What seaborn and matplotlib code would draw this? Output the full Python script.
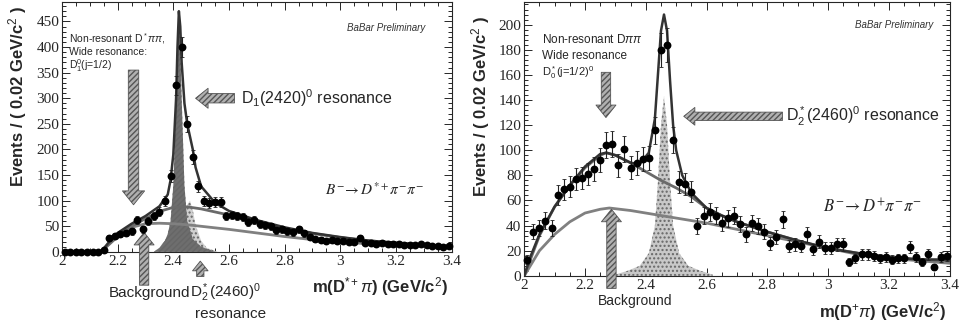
import numpy as np
import pandas as pd
import seaborn as sns
import matplotlib.pyplot as plt
from matplotlib.ticker import MultipleLocator

# ---- data: left panel  B- -> D*+ pi- pi-
bins_l = np.round(np.arange(2.01, 3.40, 0.02), 2)
counts_l = [0, 0, 0, 0, 0, 0, 0, 3, 27, 32, 34, 37, 40, 62, 44, 60, 70, 78, 100, 148,
            325, 400, 250, 185, 128, 100, 96, 97, 98, 70, 72, 70, 68, 58, 62, 55, 52, 50, 42, 44,
            40, 38, 44, 36, 30, 25, 24, 22, 23, 21, 22, 20, 20, 27, 18, 17, 16, 17, 15, 16,
            15, 14, 14, 13, 16, 13, 12, 11, 10, 12]

fit_x_l = [2.0, 2.14, 2.17, 2.2, 2.25, 2.3, 2.35, 2.38, 2.39, 2.40, 2.41, 2.415, 2.42, 2.425,
           2.43, 2.44, 2.45, 2.46, 2.47, 2.48, 2.5, 2.55, 2.6, 2.7, 2.8, 2.9, 3.0, 3.1, 3.2, 3.3, 3.4]
fit_tot_l = [0, 0, 20, 37, 55, 70, 89, 112, 140, 190, 300, 400, 470, 440, 370, 290, 250, 225, 200,
             165, 128, 96, 80, 62, 48, 37, 29, 22, 18, 14, 11]
mid_x_l = [2.0, 2.14, 2.2, 2.25, 2.3, 2.35, 2.4, 2.45, 2.5, 2.6, 2.7, 2.8, 2.9, 3.0, 3.1, 3.2, 3.3, 3.4]
mid_l = [0, 0, 30, 50, 65, 79, 87, 88, 84, 72, 58, 46, 36, 28, 22, 17, 13, 10]
bkg_l = [0, 0, 35, 48, 55, 56, 55, 53, 50, 44, 37, 30, 24, 19, 16, 13, 11, 9]

d1_x = [2.33, 2.35, 2.37, 2.38, 2.39, 2.40, 2.41, 2.415, 2.42, 2.425, 2.43, 2.44, 2.45, 2.47, 2.50, 2.55]
d1_y = [0, 8, 22, 35, 60, 130, 285, 400, 465, 400, 300, 130, 60, 25, 10, 0]
d2_x_l = [2.38, 2.40, 2.42, 2.44, 2.45, 2.46, 2.47, 2.48, 2.50, 2.52, 2.56]
d2_y_l = [0, 10, 30, 62, 92, 100, 82, 52, 22, 8, 0]

# ---- data: right panel  B- -> D+ pi- pi-
bins_r = np.round(np.arange(2.01, 3.40, 0.02), 2)
counts_r = [13, 35, 38, 44, 38, 64, 69, 71, 77, 78, 81, 85, 92, 104, 105, 88, 101, 86, 90, 93,
            94, 116, 180, 184, 108, 75, 73, 67, 40, 48, 51, 48, 42, 46, 48, 41, 33, 42, 40, 35,
            26, 31, 45, 24, 25, 24, 33, 21, 27, 22, 22, 25, 25, 11, 14, 17, 17, 16, 14, 15,
            13, 14, 14, 23, 15, 11, 17, 7, 15, 16]

fit_x_r = [2.0, 2.02, 2.05, 2.1, 2.15, 2.2, 2.25, 2.27, 2.3, 2.35, 2.38, 2.41, 2.43, 2.44, 2.45,
           2.46, 2.47, 2.48, 2.49, 2.5, 2.52, 2.55, 2.6, 2.65, 2.7, 2.8, 2.9, 3.0, 3.1, 3.2, 3.3, 3.4]
fit_tot_r = [0, 15, 33, 55, 72, 87, 97, 98, 96, 90, 89, 98, 125, 160, 195, 208, 195, 155, 120,
             100, 80, 66, 54, 48, 43, 35, 28, 22, 18, 15, 13, 13]
mid_x_r = [2.0, 2.05, 2.1, 2.15, 2.2, 2.25, 2.27, 2.3, 2.35, 2.4, 2.45, 2.5, 2.55, 2.6, 2.65,
           2.7, 2.8, 2.9, 3.0, 3.1, 3.2, 3.3, 3.4]
mid_r = [0, 32, 55, 72, 86, 96, 98, 96, 90, 83, 76, 70, 63, 54, 48, 43, 35, 28, 22, 18, 15, 13, 12]
bkg_x_r = [2.0, 2.05, 2.1, 2.15, 2.2, 2.25, 2.28, 2.35, 2.4, 2.5, 2.6, 2.7, 2.8, 2.9, 3.0, 3.1,
           3.2, 3.3, 3.4]
bkg_r = [0, 20, 33, 43, 50, 53, 54, 52, 50, 46, 42, 37, 32, 27, 22, 17, 14, 12, 10]

d2_x_r = [2.30, 2.34, 2.38, 2.41, 2.43, 2.44, 2.45, 2.46, 2.47, 2.48, 2.49, 2.51, 2.54, 2.58, 2.62]
d2_y_r = [1, 4, 8, 18, 40, 75, 120, 143, 120, 75, 40, 18, 8, 4, 1]

serif = 'Liberation Serif'
sans = 'Liberation Sans'

sns.set_style('ticks')
plt.rcParams['font.family'] = [sans, 'DejaVu Sans']
plt.rcParams['mathtext.fontset'] = 'custom'
plt.rcParams['mathtext.rm'] = sans
plt.rcParams['mathtext.it'] = sans + ':italic'
plt.rcParams['hatch.color'] = '#444444'

fig = plt.figure(figsize=(9.69, 3.28), dpi=100)
ax1 = fig.add_axes([0.064, 0.232, 0.402, 0.762])
ax2 = fig.add_axes([0.541, 0.159, 0.439, 0.835])


def fat_arrow(ax, tail, tip, width=9):
    ax.annotate('', xy=tip, xytext=tail, xycoords='data', annotation_clip=False,
                arrowprops=dict(arrowstyle='simple,head_width=1.6,head_length=1.0,tail_width=0.75',
                                mutation_scale=width, fc='#b0b0b0', ec='#555555', lw=0.6,
                                hatch='//////', shrinkA=0, shrinkB=0))


def style_axes(ax, ymax, ymaj, ymin):
    ax.set_xlim(2, 3.4)
    ax.set_ylim(0, ymax)
    ax.xaxis.set_major_locator(MultipleLocator(0.2))
    ax.xaxis.set_minor_locator(MultipleLocator(0.05))
    ax.yaxis.set_major_locator(MultipleLocator(ymaj))
    ax.yaxis.set_minor_locator(MultipleLocator(ymin))
    ax.tick_params(which='both', direction='in', top=True, right=True, labelsize=11,
                   width=0.7, pad=2)
    ax.tick_params(which='major', length=6)
    ax.tick_params(which='minor', length=3)
    for lab in ax.get_xticklabels() + ax.get_yticklabels():
        lab.set_family(serif)
    ax.xaxis.set_major_formatter(plt.FuncFormatter(lambda v, p: f'{v:g}'))
    for s in ax.spines.values():
        s.set_linewidth(0.8)
    ax.set_xlabel('')
    ax.set_ylabel('')


def draw_panel(ax, bins, counts, fit_x, fit_tot, mid_x, mid, bkg_x, bkg, shades):
    for sx, sy, fc, hatch in shades:
        ax.fill_between(sx, 0, sy, facecolor=fc, edgecolor='#666666', hatch=hatch, lw=0, zorder=1)
    sns.lineplot(x=bkg_x, y=bkg, ax=ax, color='#808080', lw=2.0, zorder=2)
    sns.lineplot(x=mid_x, y=mid, ax=ax, color='#6a6a6a', lw=2.0, zorder=2)
    sns.lineplot(x=fit_x, y=fit_tot, ax=ax, color='#333333', lw=1.8, zorder=3)
    df = pd.DataFrame({'m': bins, 'n': counts})
    err = np.sqrt(df['n'])
    ax.errorbar(df['m'], df['n'], yerr=err, fmt='none', ecolor='#222222', elinewidth=0.8,
                capsize=1.5, capthick=0.6, zorder=4)
    sns.scatterplot(data=df, x='m', y='n', ax=ax, color='black', s=32, edgecolor='black',
                    linewidth=0, zorder=5, clip_on=False)


# ---- left panel
draw_panel(ax1, bins_l, counts_l, fit_x_l, fit_tot_l, mid_x_l, mid_l, mid_x_l, bkg_l,
           [(d2_x_l, d2_y_l, '#d0d0d0', '....'), (d1_x, d1_y, '#6e6e6e', '//////')])
style_axes(ax1, 488, 50, 10)
ax1.set_yticks(np.arange(0, 451, 50))

ax1.text(2.025, 417, 'Non-resonant D$^*\\pi\\pi$,', fontsize=7.5, va='center')
ax1.text(2.025, 390, 'Wide resonance:', fontsize=7.5, va='center')
ax1.text(2.025, 363, 'D$_1^0$(j=1/2)', fontsize=7.5, va='center')
ax1.text(3.305, 437, 'BaBar Preliminary', fontsize=7, style='italic', ha='right', va='center',
         color='#333333')
ax1.text(3.3, 122, '$B^{-}\\!\\rightarrow D^{*+}\\pi^{-}\\pi^{-}$', fontsize=11, ha='right',
         va='center', family=serif, math_fontfamily='stix')
ax1.text(2.642, 300, 'D$_1$(2420)$^0$ resonance', fontsize=11.5, va='center')
fat_arrow(ax1, (2.257, 355), (2.257, 92), width=10)
fat_arrow(ax1, (2.62, 300), (2.48, 300), width=9)
fat_arrow(ax1, (2.295, -65), (2.295, 38), width=9)
fat_arrow(ax1, (2.497, -48), (2.497, -18), width=7)
ax1.text(2.46, -80, 'Background', fontsize=11, ha='right', va='center')
ax1.text(2.46, -80, 'D$_2^*$(2460)$^0$', fontsize=11, ha='left', va='center')
ax1.text(2.605, -122, 'resonance', fontsize=11, ha='center', va='center')
ax1.text(0.99, -0.14, 'm(D$^{*+}\\pi$) (GeV/c$^2$)', transform=ax1.transAxes, fontsize=12,
         fontweight='bold', ha='right', va='center')
ax1.text(-0.113, 0.62, 'Events / ( 0.02 GeV/c$^2$ )', transform=ax1.transAxes, fontsize=12,
         fontweight='bold', rotation=90, ha='center', va='center')

# ---- right panel
draw_panel(ax2, bins_r, counts_r, fit_x_r, fit_tot_r, mid_x_r, mid_r, bkg_x_r, bkg_r,
           [(d2_x_r, d2_y_r, '#c8c8c8', '....')])
style_axes(ax2, 218, 20, 4)
ax2.set_yticks(np.arange(0, 201, 20))

ax2.text(2.057, 188, 'Non-resonant D$\\pi\\pi$', fontsize=8.5, va='center')
ax2.text(2.057, 175, 'Wide resonance', fontsize=8.5, va='center')
ax2.text(2.057, 162, 'D$_0^*$(j=1/2)$^0$', fontsize=8, va='center')
ax2.text(3.345, 200, 'BaBar Preliminary', fontsize=7, style='italic', ha='right', va='center',
         color='#333333')
ax2.text(3.31, 55, '$B^{-}\\!\\rightarrow D^{+}\\pi^{-}\\pi^{-}$', fontsize=12, ha='right',
         va='center', family=serif, math_fontfamily='stix')
ax2.text(2.862, 127, 'D$_2^*$(2460)$^0$ resonance', fontsize=11.5, va='center')
fat_arrow(ax2, (2.269, 162), (2.269, 126), width=9)
fat_arrow(ax2, (2.85, 127), (2.525, 127), width=8)
fat_arrow(ax2, (2.287, -10), (2.287, 53), width=9)
ax2.text(2.364, -20, 'Background', fontsize=10, ha='center', va='center')
ax2.text(0.993, -0.131, 'm(D$^{+}\\pi$) (GeV/c$^2$)', transform=ax2.transAxes, fontsize=12,
         fontweight='bold', ha='right', va='center')
ax2.text(-0.103, 0.62, 'Events / ( 0.02 GeV/c$^2$ )', transform=ax2.transAxes, fontsize=12,
         fontweight='bold', rotation=90, ha='center', va='center')

fig.savefig('out.png', dpi=100)
plt.close(fig)
